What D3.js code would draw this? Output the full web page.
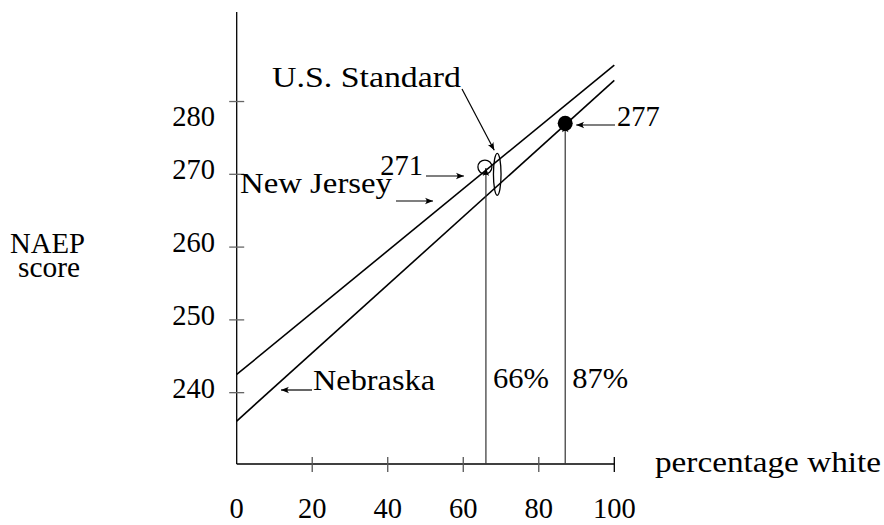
<!DOCTYPE html>
<html>
<head>
<meta charset="utf-8">
<script src="https://cdn.jsdelivr.net/npm/d3@7"></script>
<style>
  html, body { margin: 0; padding: 0; background: #fff; }
  svg text { font-family: "Liberation Serif", "Times New Roman", serif; fill: #000; }
</style>
</head>
<body>
<svg id="chart" width="884" height="525"></svg>
<script>
// ---- data ----
const xTicks = [0, 20, 40, 60, 80, 100];
const yTicks = [240, 250, 260, 270, 280];
const lineNames = ["New Jersey", "Nebraska"];
const lineAtZero = [242.5, 236.1];   // NAEP score at 0% white
const lineAtHundred = [285.0, 282.9]; // NAEP score at 100% white
const markerPct = [66, 87];
const markerScore = [271, 277];
const markerLabels = ["271", "277"];
const pctLabels = ["66%", "87%"];
const standardPct = 69;
const standardScore = 270;

// ---- layout ----
const svg = d3.select("#chart");
const x = d3.scaleLinear().domain([0, 100]).range([236.7, 614.3]);
const y = d3.scaleLinear().domain([230.2, 292.3]).range([464, 12]);
const FS = 28.5;

const defs = svg.append("defs");
defs.append("marker")
  .attr("id", "arr").attr("viewBox", "0 -5 10 10")
  .attr("refX", 10).attr("refY", 0)
  .attr("markerWidth", 10).attr("markerHeight", 8)
  .attr("markerUnits", "userSpaceOnUse")
  .attr("orient", "auto")
  .append("path").attr("d", "M0,-4 Q4,0 0,4 L10,0 Z").attr("fill", "#000");

// axes
const axG = svg.append("g");
axG.append("line").attr("x1", x(0)).attr("x2", x(0)).attr("y1", y.range()[1]).attr("y2", y.range()[0])
  .attr("stroke", "#000").attr("stroke-width", 1.3);
axG.append("line").attr("x1", x(0)).attr("x2", x(100)).attr("y1", y.range()[0]).attr("y2", y.range()[0])
  .attr("stroke", "#000").attr("stroke-width", 1.3);

// x ticks
axG.selectAll(".xt").data(xTicks.filter(d => d > 0)).join("line")
  .attr("x1", d => x(d)).attr("x2", d => x(d))
  .attr("y1", y.range()[0] - 7).attr("y2", y.range()[0] + 8)
  .attr("stroke", d => d === 100 ? "#000" : "#555").attr("stroke-width", 1.3);
axG.selectAll(".xl").data(xTicks).join("text")
  .attr("x", d => x(d)).attr("y", 518)
  .attr("text-anchor", "middle").attr("font-size", FS)
  .text(d => d);

// y ticks
axG.selectAll(".yt").data(yTicks).join("line")
  .attr("x1", x(0) - 7.5).attr("x2", x(0) + 7.5)
  .attr("y1", d => y(d)).attr("y2", d => y(d))
  .attr("stroke", "#666").attr("stroke-width", 1.3);
axG.selectAll(".yl").data(yTicks).join("text")
  .attr("x", 215).attr("y", d => y(d) + (d === 280 ? 24 : 5))
  .attr("text-anchor", "end").attr("font-size", FS)
  .text(d => d);

// axis titles
svg.append("text").attr("x", 10).attr("y", 253).attr("font-size", FS)
  .attr("textLength", 75).attr("lengthAdjust", "spacingAndGlyphs").text("NAEP");
svg.append("text").attr("x", 18).attr("y", 277).attr("font-size", FS)
  .attr("textLength", 62).attr("lengthAdjust", "spacingAndGlyphs").text("score");
svg.append("text").attr("x", 655).attr("y", 472).attr("font-size", FS)
  .attr("textLength", 226).attr("lengthAdjust", "spacingAndGlyphs").text("percentage white");

// regression lines
svg.selectAll(".reg").data(lineNames).join("line")
  .attr("x1", x(0)).attr("y1", (d, i) => y(lineAtZero[i]))
  .attr("x2", x(100)).attr("y2", (d, i) => y(lineAtHundred[i]))
  .attr("stroke", "#000").attr("stroke-width", 1.6);

// vertical drop lines with arrows
svg.selectAll(".drop").data(markerPct).join("line")
  .attr("x1", d => x(d)).attr("x2", d => x(d))
  .attr("y1", y.range()[0]).attr("y2", (d, i) => y(markerScore[i]) + 1)
  .attr("stroke", "#333").attr("stroke-width", 1.2)
  .attr("marker-end", "url(#arr)");

// points
svg.append("circle").attr("cx", x(markerPct[0]) - 1).attr("cy", y(markerScore[0]))
  .attr("r", 7).attr("fill", "none").attr("stroke", "#000").attr("stroke-width", 1.3);
svg.append("circle").attr("cx", x(markerPct[1])).attr("cy", y(markerScore[1]))
  .attr("r", 7.5).attr("fill", "#000");

// US standard oval
svg.append("ellipse").attr("cx", x(standardPct)).attr("cy", y(standardScore))
  .attr("rx", 3.8).attr("ry", 21).attr("fill", "none").attr("stroke", "#000").attr("stroke-width", 1.3);

// percentage labels
svg.selectAll(".pl").data(pctLabels).join("text")
  .attr("x", (d, i) => x(markerPct[i]) + 7).attr("y", 388)
  .attr("font-size", FS)
  .attr("textLength", 56).attr("lengthAdjust", "spacingAndGlyphs")
  .text(d => d);

// annotations
function arrow(x1, y1, x2, y2) {
  svg.append("line").attr("x1", x1).attr("y1", y1).attr("x2", x2).attr("y2", y2)
    .attr("stroke", "#000").attr("stroke-width", 1.2).attr("marker-end", "url(#arr)");
}
svg.append("text").attr("x", 272).attr("y", 87).attr("font-size", FS)
  .attr("textLength", 189).attr("lengthAdjust", "spacingAndGlyphs").text("U.S. Standard");
arrow(462, 89, x(standardPct) - 3, y(standardScore) - 24);

svg.append("text").attr("x", 423).attr("y", 175).attr("text-anchor", "end").attr("font-size", FS).text(markerLabels[0]);
arrow(426, 176, x(markerPct[0]) - 22, 176);

svg.append("text").attr("x", 240).attr("y", 193).attr("font-size", FS)
  .attr("textLength", 152).attr("lengthAdjust", "spacingAndGlyphs").text(lineNames[0]);
arrow(396, 201, 433, 201);

svg.append("text").attr("x", 617).attr("y", 126).attr("font-size", FS).text(markerLabels[1]);
arrow(615, 125, x(markerPct[1]) + 11, 125);

svg.append("text").attr("x", 313).attr("y", 390).attr("font-size", FS)
  .attr("textLength", 122).attr("lengthAdjust", "spacingAndGlyphs").text(lineNames[1]);
arrow(312, 390, 281, 390);
</script>
</body>
</html>
